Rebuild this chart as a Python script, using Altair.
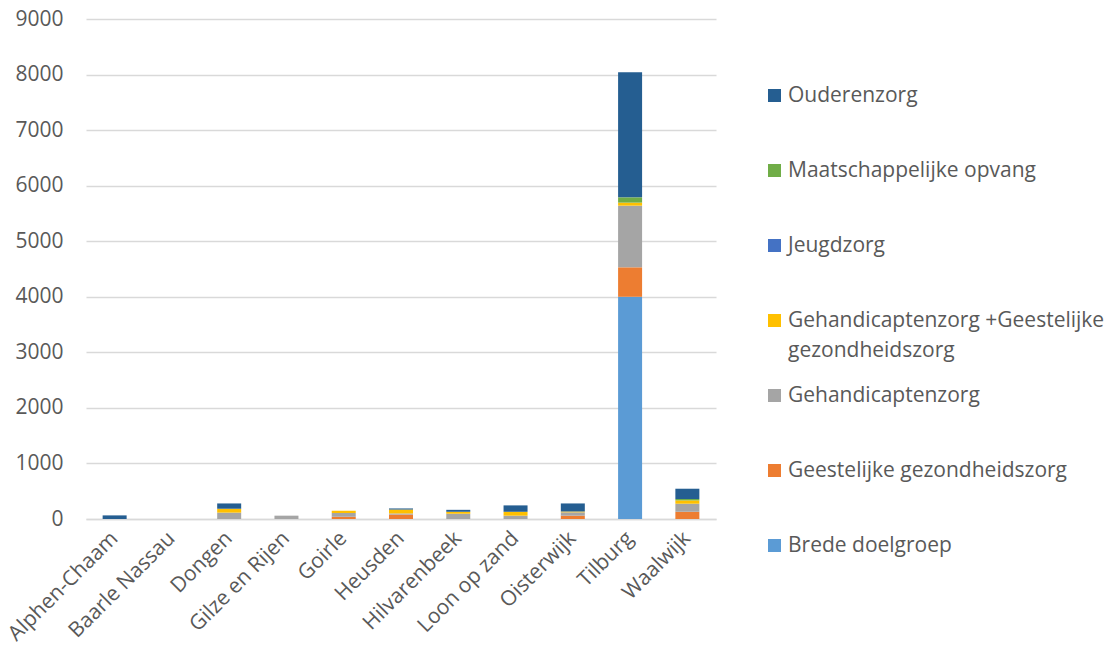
import altair as alt
import pandas as pd

gemeenten = ["Alphen-Chaam", "Baarle Nassau", "Dongen", "Gilze en Rijen", "Goirle",
             "Heusden", "Hilvarenbeek", "Loon op zand", "Oisterwijk", "Tilburg", "Waalwijk"]

# stack order, bottom to top
doelgroepen = ["Brede doelgroep", "Geestelijke gezondheidszorg", "Gehandicaptenzorg",
               "Gehandicaptenzorg +Geestelijke gezondheidszorg", "Jeugdzorg",
               "Maatschappelijke opvang", "Ouderenzorg"]
kleuren = ["#5B9BD5", "#ED7D31", "#A5A5A5", "#FFC000", "#4472C4", "#70AD47", "#255E91"]

brede = [0, 0, 0, 0, 0, 0, 0, 0, 0, 4000, 0]
geestelijk = [0, 0, 0, 0, 40, 80, 0, 0, 60, 530, 130]
gehandicapt = [0, 0, 115, 60, 70, 20, 95, 60, 60, 1110, 145]
gehandicapt_geest = [0, 0, 70, 0, 40, 70, 35, 70, 15, 55, 60]
jeugd = [0, 0, 0, 0, 0, 0, 0, 0, 0, 0, 0]
maatschappelijk = [0, 0, 0, 0, 0, 0, 0, 0, 0, 95, 25]
ouderen = [65, 0, 95, 0, 0, 20, 35, 115, 145, 2250, 185]

series = [brede, geestelijk, gehandicapt, gehandicapt_geest, jeugd, maatschappelijk, ouderen]

rows = []
for i, (naam, waarden) in enumerate(zip(doelgroepen, series)):
    for g, v in zip(gemeenten, waarden):
        rows.append({"gemeente": g, "doelgroep": naam, "aantal": v, "volgorde": i})
df = pd.DataFrame(rows)

FONT = "Open Sans"
GREY = "#595959"
FS = 21

# every legend entry gets two lines so all rows share one height
legend_label = (
    "datum.label == 'Gehandicaptenzorg +Geestelijke gezondheidszorg'"
    " ? ['Gehandicaptenzorg +Geestelijke', 'gezondheidszorg'] : [datum.label, '']"
)

chart = alt.Chart(df).mark_bar(size=24).encode(
    x=alt.X("gemeente:N", sort=gemeenten, title=None,
            scale=alt.Scale(paddingInner=0, paddingOuter=0),
            axis=alt.Axis(labelAngle=-45, labelAlign="right", labelBaseline="middle",
                          labelPadding=16, ticks=False, domainColor="#D9D9D9",
                          domainWidth=1.5, labelFontSize=FS, labelColor=GREY,
                          labelFont=FONT, grid=False, labelLimit=300)),
    y=alt.Y("aantal:Q", stack="zero", title=None,
            scale=alt.Scale(domain=[0, 9000], nice=False),
            axis=alt.Axis(values=list(range(0, 9001, 1000)), format="d", ticks=False,
                          domain=False, gridColor="#D9D9D9", gridWidth=1.5,
                          labelPadding=23, labelFontSize=FS, labelColor=GREY,
                          labelFont=FONT)),
    color=alt.Color("doelgroep:N",
                    scale=alt.Scale(domain=doelgroepen[::-1], range=kleuren[::-1]),
                    legend=alt.Legend(title=None, orient="none", legendX=678, legendY=66,
                                      symbolType="square", symbolSize=170,
                                      symbolStrokeWidth=0, labelFontSize=FS,
                                      labelColor=GREY, labelFont=FONT, labelLimit=400,
                                      labelOffset=3, rowPadding=23,
                                      labelExpr=legend_label)),
    order=alt.Order("volgorde:Q", sort="ascending"),
).properties(
    width=630, height=500,
    autosize=alt.AutoSizeParams(type="none"),
    padding={"left": 86, "top": 19, "right": 395, "bottom": 136},
).configure(
    background="white",
    style={"guide-label": {"lineHeight": 30}},
).configure_view(
    stroke=None,
)

chart.save("out.html", embed_options={"renderer": "svg", "actions": False})
